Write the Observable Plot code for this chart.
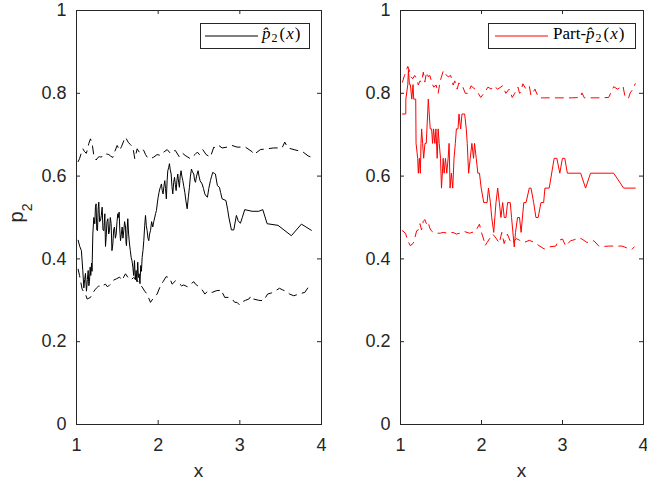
<!DOCTYPE html>
<html><head><meta charset="utf-8">
<script src="https://cdn.jsdelivr.net/npm/d3@7"></script>
<script src="https://cdn.jsdelivr.net/npm/@observablehq/plot@0.6"></script>
<style>
body{margin:0;background:#fff;}
#wrap{position:relative;width:647px;height:481px;background:#fff;overflow:hidden;}
#wrap svg{position:absolute;top:0;}
</style></head><body><div id="wrap"></div>
<script>
const xTicks = [1, 2, 3, 4];
const yTicks = [0, 0.2, 0.4, 0.6, 0.8, 1];

// Left panel: p̂2(x) estimate
const leftMidX = [1.02,1.04,1.06,1.077,1.09,1.10,1.11,1.122,1.133,1.143,1.151,1.159,1.167,1.175,1.185,1.19,1.2,1.212,1.224,1.232,1.24,1.248,1.257,1.265,1.273,1.283,1.294,1.304,1.314,1.324,1.335,1.347,1.355,1.363,1.373,1.384,1.394,1.404,1.414,1.424,1.434,1.445,1.455,1.465,1.476,1.486,1.496,1.506,1.514,1.522,1.53,1.539,1.549,1.559,1.569,1.579,1.589,1.6,1.606,1.612,1.62,1.628,1.638,1.649,1.659,1.669,1.68,1.69,1.70,1.71,1.72,1.73,1.74,1.75,1.758,1.767,1.777,1.787,1.795,1.804,1.814,1.824,1.835,1.845,1.855,1.865,1.875,1.885,1.895,1.906,1.92,1.934,1.946,1.959,1.969,1.979,1.99,2.0,2.01,2.02,2.03,2.04,2.05,2.06,2.07,2.081,2.09,2.1,2.11,2.118,2.128,2.138,2.148,2.159,2.169,2.179,2.19,2.2,2.21,2.22,2.23,2.24,2.25,2.26,2.27,2.28,2.29,2.302,2.314,2.326,2.34,2.355,2.37,2.383,2.395,2.408,2.42,2.436,2.446,2.457,2.47,2.489,2.5,2.513,2.538,2.555,2.571,2.587,2.603,2.62,2.64,2.655,2.668,2.685,2.701,2.725,2.75,2.765,2.783,2.83,2.85,2.865,2.897,2.926,2.958,2.98,3.007,3.03,3.06,3.15,3.232,3.281,3.334,3.468,3.631,3.754,3.876];
const leftMidP = [0.445,0.43,0.42,0.372,0.33,0.35,0.365,0.322,0.35,0.372,0.335,0.345,0.38,0.36,0.39,0.37,0.46,0.50,0.485,0.525,0.533,0.47,0.468,0.52,0.537,0.49,0.493,0.505,0.525,0.47,0.468,0.509,0.43,0.452,0.49,0.497,0.46,0.468,0.5,0.485,0.42,0.436,0.47,0.477,0.45,0.46,0.49,0.509,0.5,0.513,0.47,0.444,0.46,0.477,0.45,0.468,0.49,0.477,0.44,0.432,0.47,0.497,0.46,0.436,0.42,0.404,0.395,0.38,0.36,0.396,0.35,0.372,0.345,0.392,0.355,0.364,0.34,0.384,0.37,0.404,0.42,0.444,0.48,0.505,0.48,0.468,0.45,0.444,0.46,0.468,0.49,0.477,0.49,0.501,0.51,0.517,0.535,0.549,0.56,0.569,0.575,0.581,0.565,0.557,0.575,0.589,0.57,0.545,0.59,0.613,0.62,0.63,0.615,0.605,0.575,0.557,0.585,0.597,0.58,0.565,0.59,0.605,0.585,0.573,0.6,0.613,0.6,0.589,0.575,0.561,0.54,0.521,0.55,0.573,0.6,0.617,0.61,0.605,0.59,0.585,0.6,0.613,0.6,0.589,0.581,0.57,0.557,0.552,0.549,0.57,0.589,0.6,0.609,0.607,0.605,0.577,0.573,0.56,0.545,0.541,0.52,0.501,0.47,0.47,0.505,0.492,0.486,0.50,0.519,0.515,0.515,0.519,0.485,0.481,0.456,0.484,0.469];

const leftUpX = [1.02,1.037,1.058,1.078,1.095,1.12,1.14,1.151,1.171,1.192,1.212,1.241,1.262,1.282,1.298,1.314,1.335,1.355,1.375,1.396,1.42,1.445,1.47,1.498,1.527,1.553,1.58,1.6,1.632,1.66,1.69,1.714,1.73,1.743,1.771,1.8,1.824,1.845,1.865,1.906,1.947,1.987,2.028,2.069,2.11,2.15,2.18,2.21,2.26,2.3,2.33,2.394,2.45,2.48,2.505,2.546,2.587,2.64,2.681,2.701,2.742,2.783,2.844,2.905,2.966,3.068,3.15,3.17,3.252,3.415,3.517,3.55,3.59,3.7,3.762,3.835,3.88];
const leftUpP = [0.635,0.642,0.655,0.666,0.66,0.655,0.668,0.679,0.69,0.678,0.65,0.639,0.645,0.647,0.646,0.647,0.652,0.654,0.653,0.652,0.648,0.645,0.66,0.674,0.662,0.672,0.686,0.694,0.682,0.676,0.67,0.642,0.655,0.666,0.657,0.664,0.662,0.652,0.646,0.642,0.646,0.652,0.65,0.658,0.664,0.655,0.66,0.662,0.646,0.655,0.65,0.642,0.652,0.658,0.652,0.664,0.652,0.646,0.67,0.668,0.674,0.668,0.67,0.674,0.67,0.67,0.659,0.652,0.664,0.668,0.668,0.682,0.668,0.662,0.66,0.649,0.645];

const leftLowX = [1.02,1.037,1.069,1.09,1.11,1.131,1.151,1.171,1.2,1.233,1.253,1.273,1.294,1.314,1.335,1.355,1.376,1.396,1.416,1.437,1.457,1.49,1.527,1.559,1.58,1.6,1.641,1.67,1.7,1.743,1.77,1.804,1.835,1.865,1.885,1.906,1.947,1.987,2.028,2.06,2.097,2.138,2.171,2.212,2.245,2.286,2.314,2.355,2.395,2.436,2.457,2.497,2.54,2.571,2.611,2.66,2.71,2.75,2.762,2.791,2.815,2.856,2.905,2.938,2.966,2.995,3.036,3.07,3.11,3.14,3.17,3.23,3.29,3.34,3.39,3.436,3.485,3.525,3.566,3.61,3.66,3.754,3.795,3.864];
const leftLowP = [0.375,0.36,0.327,0.32,0.315,0.303,0.305,0.307,0.318,0.327,0.331,0.335,0.332,0.333,0.337,0.339,0.333,0.335,0.339,0.346,0.349,0.352,0.356,0.348,0.357,0.364,0.352,0.35,0.355,0.348,0.34,0.332,0.322,0.315,0.305,0.295,0.307,0.315,0.335,0.345,0.357,0.355,0.339,0.347,0.343,0.335,0.337,0.333,0.339,0.345,0.339,0.333,0.325,0.315,0.323,0.319,0.323,0.324,0.315,0.317,0.307,0.307,0.303,0.295,0.295,0.289,0.297,0.3,0.303,0.311,0.303,0.3,0.299,0.315,0.318,0.323,0.329,0.325,0.322,0.315,0.311,0.317,0.319,0.339];

// Right panel: Part-p̂2(x) estimate
const rightMidX = [1.024,1.065,1.066,1.09,1.098,1.11,1.122,1.139,1.155,1.163,1.188,1.192,1.212,1.22,1.233,1.245,1.253,1.261,1.273,1.286,1.302,1.318,1.335,1.343,1.355,1.367,1.384,1.396,1.408,1.424,1.437,1.453,1.465,1.478,1.494,1.506,1.527,1.539,1.555,1.571,1.588,1.6,1.612,1.628,1.645,1.661,1.677,1.69,1.71,1.722,1.743,1.759,1.792,1.812,1.824,1.841,1.861,1.881,1.902,1.914,1.935,1.955,1.975,1.996,2.028,2.069,2.086,2.11,2.126,2.151,2.179,2.2,2.22,2.24,2.261,2.281,2.302,2.322,2.355,2.371,2.404,2.42,2.445,2.469,2.489,2.522,2.55,2.59,2.611,2.644,2.672,2.7,2.734,2.767,2.783,2.836,2.897,2.93,2.967,2.999,3.028,3.06,3.224,3.285,3.346,3.632,3.755,3.898];
const rightMidP = [0.75,0.75,0.786,0.821,0.857,0.821,0.821,0.786,0.821,0.786,0.786,0.679,0.643,0.607,0.643,0.607,0.679,0.714,0.679,0.643,0.679,0.679,0.75,0.786,0.75,0.714,0.714,0.679,0.714,0.679,0.714,0.643,0.714,0.679,0.643,0.571,0.643,0.607,0.643,0.607,0.643,0.679,0.571,0.607,0.571,0.643,0.679,0.714,0.714,0.75,0.714,0.75,0.75,0.714,0.679,0.607,0.643,0.679,0.643,0.679,0.643,0.607,0.607,0.571,0.536,0.536,0.571,0.536,0.5,0.464,0.536,0.571,0.536,0.5,0.536,0.5,0.5,0.536,0.536,0.5,0.429,0.464,0.5,0.5,0.464,0.536,0.536,0.571,0.571,0.536,0.5,0.5,0.536,0.536,0.571,0.571,0.643,0.643,0.607,0.643,0.643,0.607,0.607,0.571,0.607,0.607,0.571,0.571];

const rightUpX = [1.024,1.049,1.065,1.09,1.11,1.13,1.15,1.175,1.2,1.22,1.24,1.26,1.282,1.30,1.322,1.343,1.363,1.384,1.41,1.44,1.465,1.49,1.53,1.56,1.59,1.62,1.65,1.67,1.70,1.72,1.76,1.80,1.84,1.87,1.92,1.96,1.99,2.03,2.08,2.12,2.15,2.2,2.26,2.3,2.34,2.38,2.41,2.45,2.47,2.482,2.511,2.55,2.59,2.611,2.66,2.685,2.713,2.75,2.836,3.02,3.12,3.22,3.24,3.27,3.305,3.468,3.57,3.632,3.68,3.746,3.775,3.816,3.836,3.869,3.898];
const rightUpP = [0.827,0.843,0.851,0.865,0.855,0.84,0.835,0.843,0.835,0.82,0.83,0.827,0.851,0.827,0.851,0.84,0.843,0.827,0.815,0.82,0.80,0.83,0.855,0.845,0.84,0.843,0.82,0.83,0.81,0.825,0.82,0.80,0.80,0.818,0.81,0.80,0.79,0.80,0.815,0.81,0.818,0.81,0.818,0.80,0.81,0.79,0.80,0.815,0.80,0.802,0.823,0.81,0.817,0.795,0.81,0.798,0.789,0.789,0.789,0.789,0.789,0.79,0.801,0.789,0.789,0.789,0.79,0.816,0.81,0.818,0.789,0.789,0.801,0.81,0.823];

const rightLowX = [1.024,1.045,1.065,1.09,1.12,1.159,1.2,1.22,1.24,1.26,1.28,1.30,1.32,1.34,1.36,1.38,1.40,1.45,1.49,1.527,1.588,1.649,1.69,1.73,1.79,1.853,1.9,1.935,1.975,1.996,2.03,2.045,2.07,2.1,2.139,2.18,2.22,2.25,2.28,2.32,2.35,2.384,2.41,2.43,2.47,2.53,2.59,2.65,2.71,2.775,2.836,2.918,2.947,3.0,3.04,3.1,3.142,3.203,3.24,3.3,3.35,3.387,3.448,3.5,3.57,3.734,3.816,3.857,3.886];
const rightLowP = [0.468,0.465,0.46,0.444,0.432,0.438,0.468,0.47,0.485,0.47,0.49,0.495,0.485,0.49,0.475,0.468,0.465,0.462,0.462,0.464,0.462,0.464,0.46,0.462,0.466,0.462,0.465,0.47,0.484,0.466,0.445,0.432,0.44,0.449,0.46,0.45,0.438,0.464,0.437,0.46,0.445,0.437,0.445,0.449,0.445,0.44,0.445,0.44,0.432,0.424,0.429,0.431,0.444,0.448,0.431,0.444,0.446,0.451,0.448,0.44,0.44,0.444,0.431,0.43,0.431,0.431,0.425,0.423,0.429];

const AX = "#262626";
const PH = 414;

function panel({width, marginLeft, marginRight, color, mid, up, low}) {
  const dash = "8,6";
  const PW = width - marginLeft - marginRight;
  return Plot.plot({
    width, height: 481,
    marginLeft, marginRight, marginTop: 10, marginBottom: 57,
    x: {domain: [1, 4]},
    y: {domain: [0, 1]},
    style: {fontFamily: "'Liberation Sans', Arial, sans-serif", fontSize: "18px", color: AX, background: "transparent", overflow: "visible"},
    marks: [
      Plot.line(up[0], {x: up[0], y: up[1], stroke: color, strokeWidth: 1, strokeDasharray: dash}),
      Plot.line(low[0], {x: low[0], y: low[1], stroke: color, strokeWidth: 1, strokeDasharray: dash}),
      Plot.line(mid[0], {x: mid[0], y: mid[1], stroke: color, strokeWidth: 1}),
      Plot.tickY(yTicks, {y: d => d, stroke: AX, insetRight: PW - 4}),
      Plot.tickY(yTicks, {y: d => d, stroke: AX, insetLeft: PW - 4}),
      Plot.tickX(xTicks, {x: d => d, stroke: AX, insetTop: PH - 4}),
      Plot.tickX(xTicks, {x: d => d, stroke: AX, insetBottom: PH - 4}),
      Plot.frame({stroke: AX, strokeWidth: 1}),
      Plot.axisY({ticks: yTicks, tickSize: 0, tickPadding: 10, tickFormat: d => String(d), label: null}),
      Plot.axisX({ticks: xTicks, tickSize: 0, tickPadding: 14, tickFormat: d => String(d), label: null})
    ]
  });
}

function addLegend(svg, {x0, x1, lineX0, lineX1, textX, color, prefix}) {
  const s = d3.select(svg);
  s.append("rect").attr("x", x0 + 0.5).attr("y", 23.5).attr("width", x1 - x0).attr("height", 25)
    .attr("fill", "#fff").attr("stroke", AX).attr("stroke-width", 1);
  s.append("line").attr("x1", lineX0).attr("x2", lineX1).attr("y1", 36).attr("y2", 36)
    .attr("stroke", color).attr("stroke-width", 1);
  const t = s.append("text").attr("x", textX).attr("y", 38.5)
    .attr("font-family", "'Liberation Serif', 'Times New Roman', serif").attr("font-size", 17)
    .attr("fill", "#000").attr("text-anchor", "start");
  if (prefix) t.append("tspan").text(prefix);
  t.append("tspan").attr("font-style", "italic").text("p\u0302");
  t.append("tspan").attr("font-size", 12).attr("dy", 3).attr("dx", 1).text("2");
  t.append("tspan").attr("dy", -3).attr("dx", 2).text("(");
  t.append("tspan").attr("font-style", "italic").attr("dx", 1).text("x");
  t.append("tspan").attr("dx", 1).text(")");
}

function addXLabel(svg, cx) {
  d3.select(svg).append("text").attr("x", cx).attr("y", 477).attr("text-anchor", "middle")
    .attr("font-family", "'Liberation Sans', Arial, sans-serif").attr("font-size", 19)
    .attr("fill", AX).text("x");
}

const wrap = document.getElementById("wrap");

const left = panel({width: 324, marginLeft: 76, marginRight: 3, color: "#000000",
  mid: [leftMidX, leftMidP], up: [leftUpX, leftUpP], low: [leftLowX, leftLowP]});
left.style.left = "0px";
addLegend(left, {x0: 200, x1: 309, lineX0: 205, lineX1: 258, textX: 262, color: "#000000", prefix: null});
addXLabel(left, 198.5);
// y label p_2
const yl = d3.select(left).append("text").attr("transform", "translate(23,213) rotate(-90)")
  .attr("text-anchor", "middle").attr("font-family", "'Liberation Sans', Arial, sans-serif")
  .attr("font-size", 20).attr("fill", AX);
yl.append("tspan").text("p");
yl.append("tspan").attr("font-size", 14).attr("dy", 9).text("2");
wrap.appendChild(left);

const right = panel({width: 323, marginLeft: 76, marginRight: 4, color: "#ff0000",
  mid: [rightMidX, rightMidP], up: [rightUpX, rightUpP], low: [rightLowX, rightLowP]});
right.style.left = "324px";
addLegend(right, {x0: 164, x1: 311, lineX0: 171, lineX1: 224, textX: 229, color: "#ff0000", prefix: "Part-"});
addXLabel(right, 197.5);
wrap.appendChild(right);
</script>
</body></html>
